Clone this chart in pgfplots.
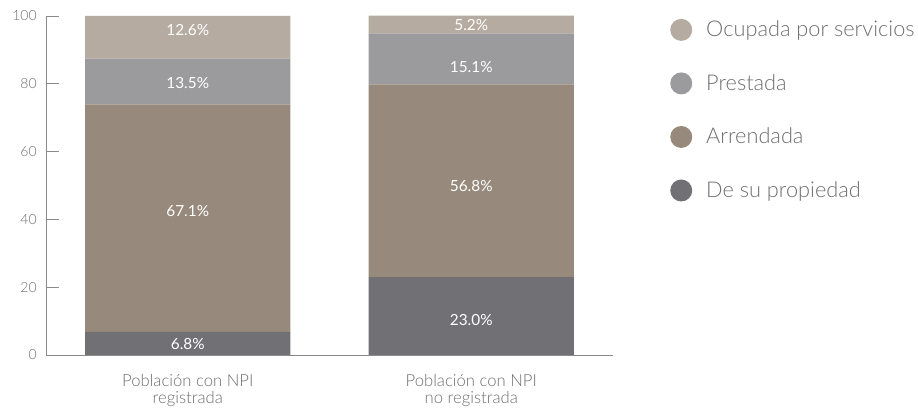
\documentclass[border=0pt]{standalone}
\usepackage{pgfplots}
\pgfplotsset{compat=1.18}
\usepackage{fontspec}
\setmainfont{Lato}[UprightFont={* Light}]
\newfontfamily\latoreg{Lato}
\definecolor{cOcu}{HTML}{B5ABA0}
\definecolor{cPre}{HTML}{9B9B9D}
\definecolor{cArr}{HTML}{978A7C}
\definecolor{cPro}{HTML}{717075}
\definecolor{cAx}{HTML}{8A8A8A}
\definecolor{cTx}{HTML}{6D6E71}
\begin{document}
\begin{tikzpicture}
\path[use as bounding box] (-34.5pt,-40.5pt) rectangle (654pt,266.25pt);
\pgfplotsset{
  base/.style={
    scale only axis, width=425.25pt, height=254.25pt,
    at={(0pt,0pt)}, anchor=south west,
    xmin=-0.5, xmax=1.5, ymin=0, ymax=100,
    /pgf/number format/assume math mode=true,
  }
}
\begin{axis}[base,
  ybar stacked, bar width=153.75pt,
  axis x line*=bottom, axis y line*=left,
  axis line style={cAx, line width=0.6pt},
  separate axis lines,
  x axis line style={-}, y axis line style={-},
  ytick={0,20,40,60,80,100},
  yticklabel style={font=\fontsize{10.5}{12}\selectfont, text=cTx, xshift=-3.5pt},
  ytick style={cAx, line width=0.6pt},
  major tick length=9.75pt,
  xtick={0,1},
  xticklabels={{Población con NPI\\registrada},{Población con NPI\\no registrada}},
  xticklabel style={align=center, font=\fontsize{12.5}{12.75}\selectfont, text=cTx, yshift=-11pt},
  x tick style={draw=none},
  extra x ticks={0.5,1.5}, extra x tick labels={},
  extra x tick style={major tick length=5.25pt, tick style={draw=cAx, line width=0.6pt}},
  tick align=inside,
  legend style={at={(1.1005,0.994)}, anchor=north west, draw=none, fill=none,
    inner sep=0pt, font=\fontsize{16.3}{18}\selectfont, text=cTx,
    row sep=22.8pt, legend cell align=left,
    /tikz/every odd column/.append style={column sep=8.5pt}},
  legend image code/.code={\fill[#1,draw=none] (8.25pt,0pt) circle (8.25pt);},
  reverse legend,
]
\addplot[fill=cPro, draw=none] coordinates {(0,6.8) (1,23.0)};
\addplot[fill=cArr, draw=none] coordinates {(0,67.1) (1,56.8)};
\addplot[fill=cPre, draw=none] coordinates {(0,13.5) (1,15.1)};
\addplot[fill=cOcu, draw=none] coordinates {(0,12.6) (1,5.2)};
\legend{De su propiedad, Arrendada, Prestada, Ocupada por servicios}
\end{axis}
\begin{axis}[base, hide axis]
\addplot[draw=none, mark=none, nodes near coords, point meta=explicit symbolic,
  every node near coord/.append style={anchor=center, text=white, font=\latoreg\fontsize{11.5}{13}\selectfont}]
  coordinates {
  (0,3.2) [6.8\%]
  (0,42.5) [67.1\%]
  (0,80.3) [13.5\%]
  (0,95.8) [12.6\%]
  (1,10.4) [23.0\%]
  (1,49.9) [56.8\%]
  (1,85.0) [15.1\%]
  (1,97.4) [5.2\%]
  };
\end{axis}
\end{tikzpicture}
\end{document}
